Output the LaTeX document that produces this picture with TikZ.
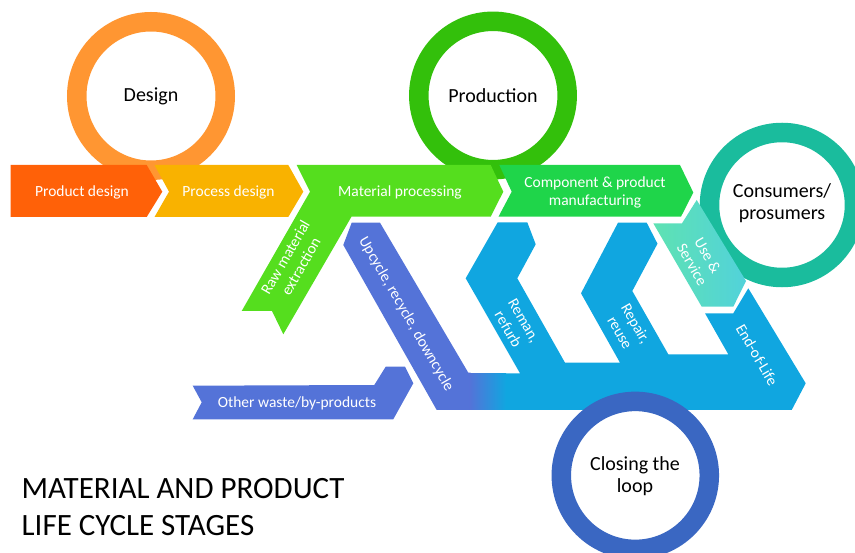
\documentclass[tikz,border=0pt]{standalone}
\usepackage{fontspec}
\setmainfont{Carlito}
\definecolor{prodd}{HTML}{FF6108}
\definecolor{procd}{HTML}{F9B200}
\definecolor{matg}{HTML}{55DE1E}
\definecolor{compg}{HTML}{1FD54A}
\definecolor{prodring}{HTML}{33C00B}
\definecolor{designring}{HTML}{FF9632}
\definecolor{consring}{HTML}{1ABC9D}
\definecolor{useA}{HTML}{5EE2B2}
\definecolor{useB}{HTML}{52D2DA}
\definecolor{blueA}{HTML}{10A6E0}
\definecolor{purp}{HTML}{5473D8}
\definecolor{closering}{HTML}{3A67C2}
\begin{document}
\begin{tikzpicture}[x=1pt,y=-1pt,
  lbl/.style={text=white,font=\fontsize{15.5}{18}\selectfont,align=center,inner sep=0pt},
  big/.style={text=black,font=\fontsize{20}{21.7}\selectfont,align=center,inner sep=0pt},
  ringc/.style={draw=#1,line width=19.5pt},
  ttl/.style={text=black,font=\fontsize{31}{36}\selectfont,anchor=base west,inner sep=0pt}]
\useasboundingbox (0,0) rectangle (855,553);
% rings behind banners
\draw[ringc=designring] (151,96) circle[radius=74.25pt];
\draw[ringc=prodring] (493,95.5) circle[radius=74.2pt];
\draw[ringc=consring] (782,205) circle[radius=72.5pt];
% top banners
\fill[prodd] (10.7,165) -- (146.7,165) -- (162.3,191.7) -- (146.7,217) -- (10.7,217) -- cycle;
\fill[procd] (154.5,165) -- (288.3,165) -- (303.3,191.7) -- (288.3,217) -- (154.5,217) -- (169,191.7) -- cycle;
\fill[matg] (296.7,165) -- (490.7,165) -- (503.3,191.7) -- (490.7,216.7) -- (351.5,216.7) -- (283.3,334.3) -- (272,311) -- (241.7,311) -- (310,191.7) -- cycle;
\fill[compg] (499.3,165) -- (680,165) -- (693.3,192.5) -- (681,216.7) -- (498.5,216.7) -- (511.7,191.7) -- cycle;
% use & service
\shade[left color=useA,right color=useB] (653.3,223.3) -- (682,223.3) -- (696.7,200) -- (746,281) -- (733.3,306.7) -- (701.7,306.7) -- cycle;
% other waste
\fill[purp] (192.7,385.7) -- (374.3,385) -- (385.7,366.7) -- (405,366.7) -- (413.3,383.3) -- (393.3,419.3) -- (192.7,419.3) -- (201.7,402.3) -- cycle;
% upcycle band
\fill[purp] (351.7,222.7) -- (380,222.7) -- (468.3,372.7) -- (470.5,372.7) -- (470.5,410) -- (436.7,410) -- (343.3,245) -- cycle;
% blue loop arms and bar
\fill[blueA] (505,373.3) -- (520,373.3) -- (465.7,278.3) -- (497.7,222.3) -- (527.3,222.3) -- (535.7,244.3) -- (517.3,278.3) -- (565,362.7) -- (620,362.7) -- (581,293.3) -- (618,222.7) -- (646.7,222.7) -- (657.5,243.7) -- (632.3,291) -- (668.3,354.3) -- (728.3,354.3) -- (705,313.3) -- (733.3,313.3) -- (748.3,288.3) -- (805.7,383.3) -- (791.7,410) -- (505,410) -- cycle;
\shade[left color=purp,right color=blueA] (469.5,373.3) rectangle (506,410);
% closing ring on top
\draw[ringc=closering] (635.3,475.4) circle[radius=74pt];
% labels
\node[lbl] (pd) at (82,192) {Product design};
\node[lbl] (psd) at (228.5,192) {Process design};
\node[lbl] (mp) at (400,192) {Material processing};
\node[lbl] (cpm) at (595,192.5) {Component \& product\\manufacturing};
\node[lbl,rotate=60] (raw) at (293,262) {Raw material\\extraction};
\node[lbl,rotate=-60] (up) at (406,314) {Upcycle, recycle, downcycle};
\node[lbl,rotate=-60] (rem) at (516,325) {Reman,\\refurb};
\node[lbl,rotate=-60] (rep) at (628,328) {Repair,\\reuse};
\node[lbl,rotate=-60] (use) at (700,260) {Use \&\\Service};
\node[lbl,rotate=-60] (eol) at (757,355) {End-of-Life};
\node[lbl] (ow) at (297,403) {Other waste/by-products};
\node[big] (design) at (151,96) {Design};
\node[big] (prod) at (493,96) {Production};
\node[big] (cons) at (782,203) {Consumers/\\prosumers};
\node[big] (close) at (635,476) {Closing the\\loop};
\node[ttl] (t1) at (21.5,498.5) {MATERIAL AND PRODUCT};
\node[ttl] (t2) at (21.5,535) {LIFE CYCLE STAGES};
\end{tikzpicture}
\end{document}
